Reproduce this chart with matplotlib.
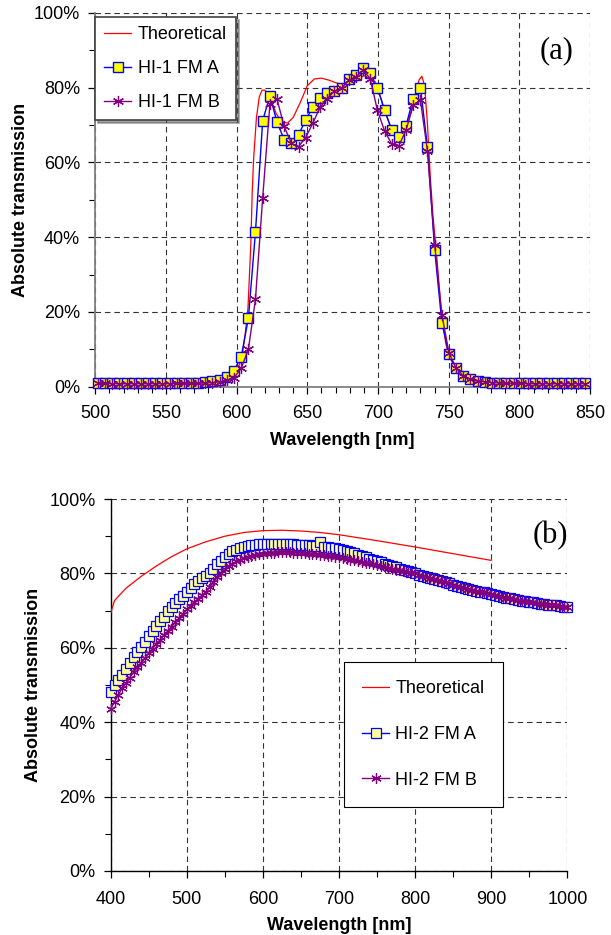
import matplotlib
matplotlib.use('Agg')
import matplotlib.pyplot as plt
from matplotlib.ticker import MultipleLocator, FuncFormatter

plt.rcParams['font.family'] = ['Liberation Sans', 'DejaVu Sans']

# ---------------- Panel (a) data ----------------
wl_theo_a = [500, 550, 575, 585, 590, 595, 598, 600, 602, 604, 606, 608, 610, 611, 612, 614,
             616, 618, 620, 622, 625, 628, 632, 636, 640, 645, 650, 655, 660, 665, 670, 675,
             680, 685, 690, 695, 700, 705, 710, 713, 716, 720, 724, 727, 729, 731, 733, 735,
             737, 739, 741, 743, 745, 748, 750, 755, 760, 765, 770, 780, 790, 800, 850]
t_theo_a = [0.3, 0.4, 0.8, 1.3, 1.8, 2.6, 3.5, 4.5, 6.0, 8.5, 14.0, 21.0, 38.0, 52.0, 61.0, 72.0,
            77.5, 79.3, 79.3, 78.3, 76.0, 73.0, 70.8, 70.5, 72.0, 76.0, 80.5, 82.3, 82.5, 82.0, 81.3, 80.8,
            80.8, 81.8, 83.2, 82.5, 79.5, 73.5, 68.5, 66.8, 66.5, 69.0, 74.5, 79.0, 82.0, 83.0, 80.5, 70.0,
            56.0, 45.0, 37.5, 28.0, 19.0, 11.5, 8.5, 4.5, 2.6, 1.6, 1.1, 0.7, 0.5, 0.4, 0.3]

wl_meas_a = [501.8, 506.9, 511.9, 517.0, 522.1, 527.2, 532.2, 537.3, 542.4, 547.4, 552.5, 557.6,
             562.6, 567.7, 572.8, 577.9, 582.9, 588.0, 593.1, 598.1, 603.2, 608.3, 613.3, 618.4,
             623.5, 628.6, 633.6, 638.7, 643.8, 648.8, 653.9, 659.0, 664.0, 669.1, 674.2, 679.3,
             684.3, 689.4, 694.5, 699.5, 704.6, 709.7, 714.7, 719.8, 724.9, 730.0, 735.0, 740.1,
             745.2, 750.2, 755.3, 760.4, 765.4, 770.5, 775.6, 780.7, 785.7, 790.8, 795.9, 800.9,
             806.0, 811.1, 816.1, 821.2, 826.3, 831.4, 836.4, 841.5, 846.6]
t_fma_a = [1.0, 1.0, 0.9, 0.9, 0.9, 0.9, 0.9, 0.9, 0.9, 0.9, 0.9, 1.0,
           1.0, 1.0, 1.1, 1.2, 1.4, 1.9, 2.7, 4.3, 8.0, 18.3, 41.4, 71.1,
           77.8, 70.7, 66.1, 65.1, 67.4, 71.3, 74.8, 77.3, 78.6, 79.1, 79.8, 82.2,
           83.3, 85.1, 83.8, 80.0, 74.0, 68.6, 66.7, 69.8, 77.0, 80.0, 64.0, 36.5,
           17.1, 8.7, 4.9, 2.9, 2.0, 1.6, 1.3, 1.1, 1.0, 1.0, 0.9, 0.9,
           0.9, 0.9, 0.9, 0.9, 0.9, 0.9, 0.9, 0.9, 0.9]
t_fmb_a = [0.9, 0.9, 0.8, 0.8, 0.8, 0.8, 0.8, 0.8, 0.8, 0.8, 0.8, 0.9,
           0.9, 0.9, 0.9, 1.0, 1.1, 1.3, 1.7, 2.4, 4.9, 10.0, 23.4, 50.5,
           75.5, 76.8, 69.6, 65.1, 64.2, 66.6, 70.5, 74.7, 77.0, 79.0, 79.8, 82.0,
           82.9, 84.6, 82.4, 74.0, 68.4, 64.9, 64.4, 68.6, 75.2, 76.6, 63.0, 37.9,
           19.2, 9.1, 4.9, 2.9, 2.0, 1.5, 1.3, 1.1, 1.0, 0.9, 0.9, 0.9,
           0.8, 0.8, 0.8, 0.8, 0.8, 0.8, 0.8, 0.8, 0.8]

# ---------------- Panel (b) data ----------------
wl_theo_b = [400, 405, 420, 440, 460, 480, 500, 525, 550, 575, 600, 625, 650, 675, 700,
             750, 800, 850, 900]
t_theo_b = [69.3, 72.7, 76.0, 79.2, 82.0, 84.5, 86.6, 88.5, 90.0, 91.0, 91.5, 91.6, 91.4,
            91.0, 90.4, 88.8, 87.1, 85.3, 83.5]

wl_meas_b = [400, 405, 410, 415, 420, 425, 430, 435, 440, 445, 450, 455, 460, 465, 470, 475,
             480, 485, 490, 495, 500, 505, 510, 515, 520, 525, 530, 535, 540, 545, 550, 555,
             560, 565, 570, 575, 580, 585, 590, 595, 600, 605, 610, 615, 620, 625, 630, 635,
             640, 645, 650, 655, 660, 665, 670, 675, 680, 685, 690, 695, 700, 705, 710, 715,
             720, 725, 730, 735, 740, 745, 750, 755, 760, 765, 770, 775, 780, 785, 790, 795,
             800, 805, 810, 815, 820, 825, 830, 835, 840, 845, 850, 855, 860, 865, 870, 875,
             880, 885, 890, 895, 900, 905, 910, 915, 920, 925, 930, 935, 940, 945, 950, 955,
             960, 965, 970, 975, 980, 985, 990, 995, 1000]
t_fma_b = [48.2, 50.0, 51.4, 52.8, 54.3, 55.9, 57.5, 58.8, 60.2, 61.5, 63.2, 64.5, 65.8, 67.1, 68.4, 69.8,
           70.9, 72.1, 73.0, 74.0, 75.1, 76.0, 77.2, 78.0, 78.8, 79.3, 80.0, 81.2, 82.4, 83.4, 84.4, 85.2,
           85.9, 86.4, 86.9, 87.2, 87.4, 87.6, 87.7, 87.8, 87.8, 87.9, 88.0, 88.0, 88.0, 87.9, 87.9, 87.8,
           87.8, 87.7, 87.7, 87.6, 87.6, 87.5, 87.4, 88.4, 87.0, 87.0, 86.9, 86.7, 86.6, 86.3, 86.0, 85.7,
           85.4, 85.0, 84.7, 84.4, 84.0, 83.7, 83.3, 83.0, 82.6, 82.3, 81.9, 81.6, 81.3, 80.9, 80.6, 80.3,
           80.0, 79.7, 79.4, 79.1, 78.8, 78.5, 78.2, 77.9, 77.6, 77.3, 77.0, 76.7, 76.4, 76.2, 75.9, 75.6,
           75.4, 75.1, 74.9, 74.6, 74.4, 74.1, 73.9, 73.7, 73.5, 73.3, 73.1, 72.9, 72.7, 72.6, 72.4, 72.2,
           72.1, 71.9, 71.8, 71.6, 71.5, 71.4, 71.2, 71.1, 71.0]
t_fmb_b = [43.6, 45.5, 47.3, 49.2, 50.5, 52.0, 53.4, 54.7, 56.0, 57.3, 58.6, 59.8, 61.0, 62.2, 63.4, 64.5,
           65.7, 66.8, 68.0, 69.2, 70.3, 71.3, 72.3, 73.2, 74.1, 75.1, 76.3, 77.6, 79.0, 80.2, 81.2, 82.0,
           82.6, 83.2, 83.7, 84.1, 84.4, 84.7, 84.9, 85.1, 85.3, 85.4, 85.5, 85.6, 85.7, 85.7, 85.7, 85.7,
           85.6, 85.6, 85.5, 85.4, 85.3, 85.2, 85.1, 85.0, 84.9, 84.7, 84.6, 84.4, 84.3, 84.1, 83.9, 83.7,
           83.5, 83.3, 83.1, 82.9, 82.7, 82.5, 82.3, 82.0, 81.8, 81.5, 81.3, 81.0, 80.8, 80.6, 80.4, 80.2,
           80.0, 79.7, 79.4, 79.1, 78.8, 78.5, 78.2, 77.9, 77.6, 77.3, 77.0, 76.7, 76.4, 76.2, 75.9, 75.6,
           75.4, 75.1, 74.9, 74.6, 74.4, 74.1, 73.9, 73.7, 73.5, 73.3, 73.1, 72.9, 72.7, 72.6, 72.4, 72.2,
           72.1, 71.9, 71.8, 71.6, 71.5, 71.4, 71.2, 71.1, 71.0]

labels_a = ['Theoretical', 'HI-1 FM A', 'HI-1 FM B']
labels_b = ['Theoretical', 'HI-2 FM A', 'HI-2 FM B']

RED = '#FF0000'
BLUE = '#0000FF'
PURPLE = '#800080'
STAR = (6, 2, 0)

fig = plt.figure(figsize=(6.11, 9.35), dpi=100)
axa = fig.add_axes([0.156, 0.5864, 0.8097, 0.4])
axb = fig.add_axes([0.1812, 0.0685, 0.7473, 0.3978])

pct = FuncFormatter(lambda v, _: f'{v:.0f}%')


def style(ax, x0, x1, xmaj, xmin, spine_color, spine_lw, xpad):
    ax.set_xlim(x0, x1)
    ax.set_ylim(0, 100)
    ax.xaxis.set_major_locator(MultipleLocator(xmaj))
    ax.xaxis.set_minor_locator(MultipleLocator(xmin))
    ax.yaxis.set_major_locator(MultipleLocator(20))
    ax.yaxis.set_minor_locator(MultipleLocator(10))
    ax.yaxis.set_major_formatter(pct)
    ax.set_axisbelow(True)
    ax.grid(True, which='major', color='#333333', linestyle=(0, (5, 3.5)), linewidth=0.8)
    for s in ['top', 'right']:
        ax.spines[s].set_visible(False)
    for s in ['left', 'bottom']:
        ax.spines[s].set_color(spine_color)
        ax.spines[s].set_linewidth(spine_lw)
    ax.tick_params(which='major', direction='out', length=5, width=0.9, labelsize=13,
                   colors='black')
    ax.tick_params(axis='x', which='major', pad=xpad)
    ax.tick_params(axis='y', which='major', pad=6)
    ax.tick_params(which='minor', direction='out', length=4, width=0.8)
    ax.set_xlabel('Wavelength [nm]', fontsize=13, fontweight='bold')
    ax.set_ylabel('Absolute transmission', fontsize=13, fontweight='bold')
    ax.xaxis.label.set_va('center')
    ax.yaxis.label.set_va('center')


style(axa, 500, 850, 50, 10, '#808080', 1.3, 8.5)
style(axb, 400, 1000, 100, 50, 'black', 1.0, 9.5)

axa.xaxis.set_label_coords(0.5, -0.145)
axa.yaxis.set_label_coords(-0.152, 0.5)
axb.xaxis.set_label_coords(0.5, -0.146)
axb.yaxis.set_label_coords(-0.170, 0.5)

# ---- panel (a)
axa.plot(wl_theo_a, t_theo_a, color=RED, lw=0.9, label=labels_a[0], zorder=3)
axa.plot(wl_meas_a, t_fma_a, color=BLUE, lw=1.0, marker='s', ms=6.5, mfc='#FFFF00',
         mec=BLUE, mew=1.0, label=labels_a[1], zorder=4, clip_on=False)
axa.plot(wl_meas_a, t_fmb_a, color=PURPLE, lw=1.0, marker=STAR, ms=8, mec=PURPLE,
         mew=0.9, label=labels_a[2], zorder=5, clip_on=False)
axa.text(0.933, 0.898, '(a)', transform=axa.transAxes, fontsize=22,
         family=['Liberation Serif', 'DejaVu Serif'], ha='center', va='center')
lega = axa.legend(loc='upper left', bbox_to_anchor=(0.0, 0.9885), fontsize=13, frameon=True,
                  fancybox=False, shadow=True, edgecolor='#404040', framealpha=1,
                  handlelength=1.5, labelspacing=0.95, borderpad=0.5, handletextpad=0.35,
                  borderaxespad=0, numpoints=1)
lega.get_frame().set_linewidth(1.2)

# ---- panel (b)
axb.plot(wl_theo_b, t_theo_b, color=RED, lw=0.9, label=labels_b[0], zorder=3)
axb.plot(wl_meas_b, t_fma_b, color=BLUE, lw=1.0, marker='s', ms=6.5, mfc='#FFFF99',
         mec=BLUE, mew=0.9, label=labels_b[1], zorder=4, clip_on=False)
axb.plot(wl_meas_b, t_fmb_b, color=PURPLE, lw=1.0, marker=STAR, ms=7.5, mec=PURPLE,
         mew=0.9, label=labels_b[2], zorder=5, clip_on=False)
axb.text(0.962, 0.903, '(b)', transform=axb.transAxes, fontsize=22,
         family=['Liberation Serif', 'DejaVu Serif'], ha='center', va='center')
legb = axb.legend(loc='upper left', bbox_to_anchor=(0.511, 0.562), fontsize=13, frameon=True,
                  fancybox=False, shadow=False, edgecolor='black', framealpha=1,
                  handlelength=1.5, labelspacing=1.6, borderpad=1.0, handletextpad=0.35,
                  borderaxespad=0, numpoints=1)
legb.get_frame().set_linewidth(0.8)

fig.savefig('out.png', dpi=100)
